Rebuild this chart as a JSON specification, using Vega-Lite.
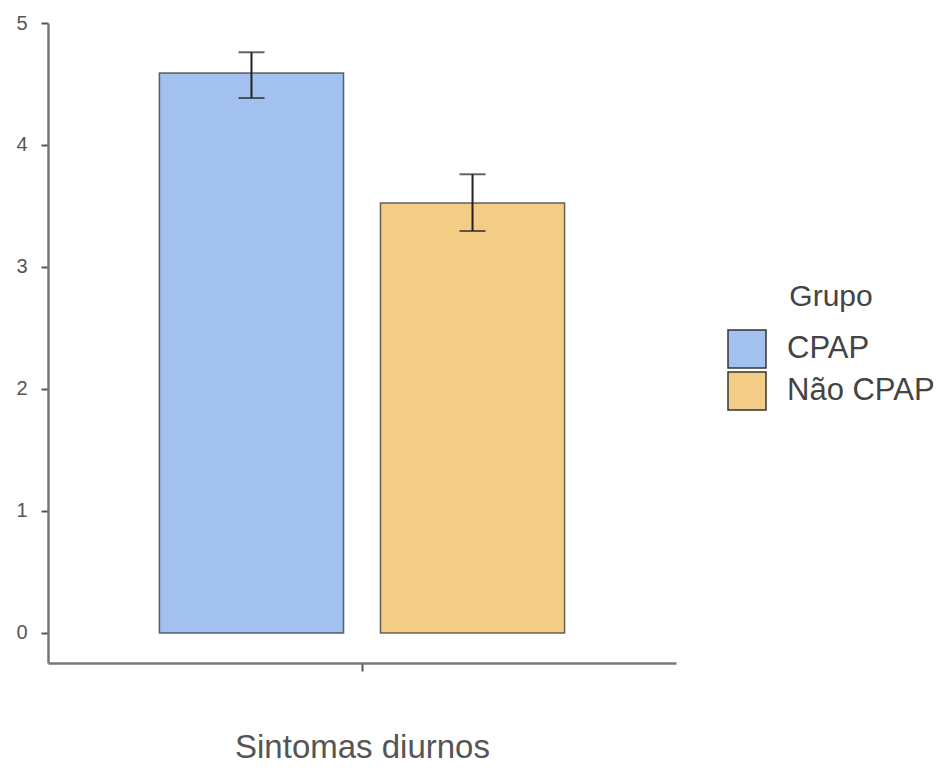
{
  "$schema": "https://vega.github.io/schema/vega-lite/v6.json",
  "autosize": {"type": "none"},
  "width": 628,
  "height": 640,
  "padding": {"left": 48, "top": 23, "right": 276, "bottom": 111},
  "background": "white",
  "config": {
    "view": {"stroke": null},
    "font": "Liberation Sans"
  },
  "data": {
    "values": [
      {"cat": "Sintomas diurnos", "Grupo": "CPAP", "mean": 4.59, "lo": 4.385, "hi": 4.76},
      {"cat": "Sintomas diurnos", "Grupo": "Não CPAP", "mean": 3.525, "lo": 3.295, "hi": 3.76}
    ]
  },
  "encoding": {
    "x": {
      "field": "cat",
      "type": "nominal",
      "scale": {"paddingInner": 0, "paddingOuter": 0.275},
      "axis": {
        "title": "Sintomas diurnos",
        "labels": false,
        "domainColor": "#777777",
        "domainWidth": 2.5,
        "tickColor": "#555555",
        "tickWidth": 2,
        "tickSize": 8,
        "titleFont": "Liberation Sans",
        "titleFontSize": 33,
        "titleFontWeight": "normal",
        "titleColor": "#555555",
        "titlePadding": 59
      }
    },
    "xOffset": {
      "field": "Grupo",
      "type": "nominal",
      "scale": {"paddingInner": 0.167, "paddingOuter": 0}
    }
  },
  "layer": [
    {
      "mark": {"type": "bar", "stroke": "#333333", "strokeWidth": 1.5, "strokeOpacity": 0.75},
      "encoding": {
        "y": {
          "field": "mean",
          "type": "quantitative",
          "scale": {"domain": [-0.246, 5], "nice": false, "zero": false},
          "axis": {
            "title": null,
            "values": [0, 1, 2, 3, 4, 5],
            "format": "d",
            "grid": false,
            "domainColor": "#777777",
            "domainWidth": 2.5,
            "tickColor": "#555555",
            "tickWidth": 2,
            "tickSize": 7,
            "labelPadding": 14,
            "labelFontSize": 20,
            "labelColor": "#555555",
            "labelFont": "Liberation Sans"
          }
        },
        "y2": {"datum": 0},
        "color": {
          "field": "Grupo",
          "type": "nominal",
          "scale": {"domain": ["CPAP", "Não CPAP"], "range": ["#a2c1ef", "#f3cd86"]},
          "legend": {
            "orient": "none",
            "legendX": 679,
            "legendY": 259,
            "padding": 0,
            "title": "Grupo",
            "titleFontSize": 30,
            "titleFontWeight": "normal",
            "titleColor": "#444444",
            "titleFont": "Liberation Sans",
            "titleAnchor": "middle",
            "titlePadding": 17,
            "symbolType": "square",
            "symbolSize": 1444,
            "symbolStrokeColor": "#333333",
            "symbolStrokeWidth": 1.5,
            "symbolOpacity": 1,
            "labelFontSize": 31,
            "labelColor": "#444444",
            "labelFont": "Liberation Sans",
            "labelOffset": 20,
            "rowPadding": -4
          }
        }
      }
    },
    {
      "mark": {"type": "rule", "color": "#222222", "strokeWidth": 2},
      "encoding": {
        "y": {"field": "lo", "type": "quantitative"},
        "y2": {"field": "hi"}
      }
    },
    {
      "mark": {"type": "tick", "color": "#222222", "thickness": 2, "size": 26, "orient": "horizontal"},
      "encoding": {
        "y": {"field": "lo", "type": "quantitative"}
      }
    },
    {
      "mark": {"type": "tick", "color": "#222222", "thickness": 2, "size": 26, "orient": "horizontal"},
      "encoding": {
        "y": {"field": "hi", "type": "quantitative"}
      }
    }
  ]
}
